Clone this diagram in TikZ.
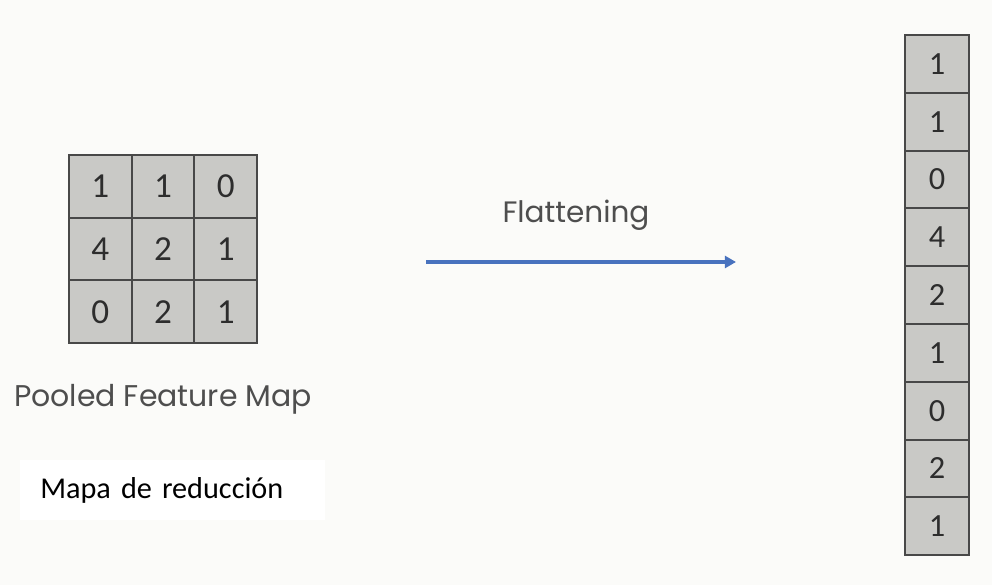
\documentclass[tikz,border=0pt]{standalone}
\usepackage{fontspec}
\setmainfont{Carlito}
\newfontfamily\capfont{Poppins}
\usetikzlibrary{arrows.meta, positioning}

\definecolor{paper}{RGB}{251,251,249}
\definecolor{cellgray}{RGB}{201,201,198}
\definecolor{cellline}{RGB}{72,72,72}
\definecolor{digit}{RGB}{45,45,45}
\definecolor{captext}{RGB}{78,78,78}
\definecolor{flowblue}{RGB}{72,114,190}

\tikzset{
  cell/.style    = {draw=cellline, fill=cellgray, line width=1.5pt,
                    minimum width=15.7mm, minimum height=15.7mm,
                    inner sep=0pt, text=digit,
                    font=\fontsize{25}{25}\selectfont},
  vcell/.style   = {cell, minimum width=16mm, minimum height=14.45mm,
                    font=\fontsize{23}{23}\selectfont},
  caption/.style = {font=\capfont\fontsize{21}{24}\selectfont, text=captext,
                    inner sep=0pt},
  tagbox/.style  = {fill=white, anchor=west, text width=66.25mm,
                    inner xsep=5mm, minimum height=14.75mm,
                    font=\fontsize{21.5}{24}\selectfont},
  flow/.style    = {-{Triangle[length=2.8mm,width=3mm]}, line width=2.4pt,
                    draw=flowblue},
}

\begin{document}
\begin{tikzpicture}[x=0.25mm, y=0.25mm]
\fill[paper] (0,0) rectangle (992,585);
\useasboundingbox (0,0) rectangle (992,585);

% pooled 3x3 map
\foreach \v [count=\i from 0] in {1,1,0,4,2,1,0,2,1} {
  \pgfmathtruncatemacro{\col}{mod(\i,3)}
  \pgfmathtruncatemacro{\row}{int(\i/3)}
  \node[cell] (g\i) at (100.4+62.7*\col, 398.6-62.7*\row) {\v};
}
\node[caption, font=\capfont\fontsize{21.3}{24}\selectfont]
  (pooled) at (163,186) {Pooled Feature Map};
\node[tagbox] (mapa) at (20,95) {Mapa de reducción};

% flattened column
\foreach \v [count=\k from 0] in {1,1,0,4,2,1,0,2,1} {
  \node[vcell] (f\k) at (937, 521.1-57.8*\k) {\v};
}

% arrow between the two
\coordinate (from) at (426,323);
\coordinate (to) at (736,323);
\draw[flow] (from) -- (to);
\node[caption] (flat) at (576,370) {Flattening};
\end{tikzpicture}
\end{document}
